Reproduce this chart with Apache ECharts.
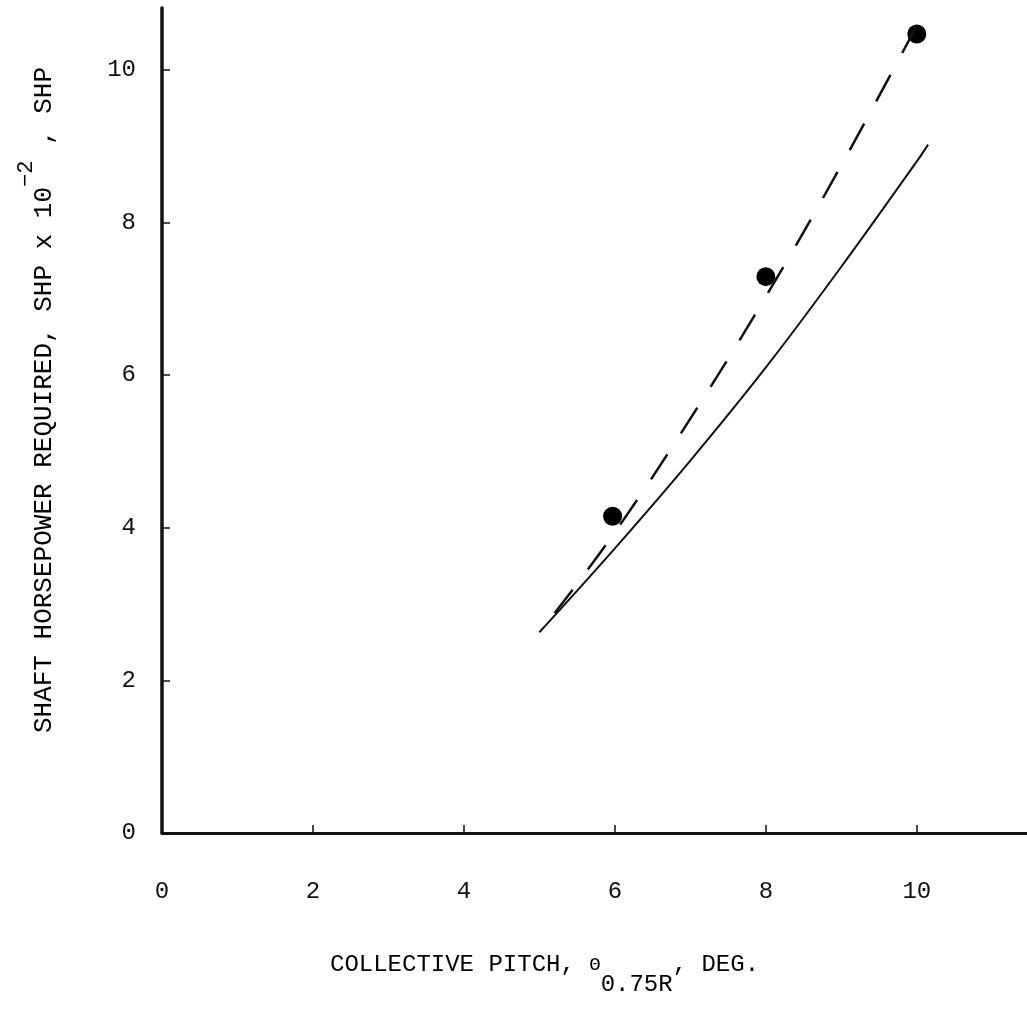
<!DOCTYPE html>
<html>
<head>
<meta charset="utf-8">
<script src="https://cdn.jsdelivr.net/npm/echarts@6/dist/echarts.min.js"></script>
<style>
html,body{margin:0;padding:0;background:#fff;}
#chart{width:1027px;height:1009px;}
</style>
</head>
<body>
<div id="chart"></div>
<script>
// Data
var xTicks = [0, 2, 4, 6, 8, 10];
var yTicks = [0, 2, 4, 6, 8, 10];
var solidX = [5.0, 6.0, 7.0, 8.0, 9.0, 10.0, 10.15];
var solidY = [2.63, 3.73, 4.88, 6.10, 7.42, 8.80, 9.02];
var dashX = [5.2, 6.0, 7.0, 8.0, 9.0, 10.07];
var dashY = [2.88, 3.94, 5.43, 7.03, 8.75, 10.71];
var pointX = [5.97, 8.0, 10.0];
var pointY = [4.15, 7.29, 10.47];

function pairs(xs, ys) { return xs.map(function (x, i) { return [x, ys[i]]; }); }

var FONT = '"Liberation Mono", "DejaVu Sans Mono", monospace';
var INK = '#111';

var chart = echarts.init(document.getElementById('chart'), null, { renderer: 'canvas' });
chart.setOption({
  backgroundColor: '#fff',
  animation: false,
  grid: { left: 162, right: 0, top: 8, bottom: 176, containLabel: false },
  xAxis: {
    type: 'value', min: 0, max: 11.46, interval: 2,
    axisLine: { show: true, onZero: false, lineStyle: { color: INK, width: 3 } },
    axisTick: { show: true, inside: true, length: 8, lineStyle: { color: INK, width: 1.5 }, customValues: [2, 4, 6, 8, 10] },
    axisLabel: { show: true, margin: 47, fontFamily: FONT, fontSize: 24, color: INK, customValues: xTicks },
    splitLine: { show: false }
  },
  yAxis: {
    type: 'value', min: 0, max: 10.81, interval: 2,
    axisLine: { show: true, onZero: false, lineStyle: { color: INK, width: 3.5 } },
    axisTick: { show: true, inside: true, length: 8, lineStyle: { color: INK, width: 1.5 }, customValues: [2, 4, 6, 8, 10] },
    axisLabel: { show: true, margin: 26, fontFamily: FONT, fontSize: 24, color: INK, customValues: yTicks },
    splitLine: { show: false }
  },
  series: [
    {
      type: 'line', data: pairs(solidX, solidY), smooth: 0.4, showSymbol: false,
      lineStyle: { color: INK, width: 2 }
    },
    {
      type: 'line', data: pairs(dashX, dashY), smooth: 0.4, showSymbol: false,
      lineStyle: { color: INK, width: 2.5, type: [30, 25] }
    },
    {
      type: 'scatter', data: pairs(pointX, pointY), symbol: 'circle', symbolSize: 19,
      itemStyle: { color: '#000', opacity: 1 }
    }
  ],
  graphic: [
    {
      type: 'text', x: 330, y: 953,
      style: {
        text: '{a|COLLECTIVE PITCH, }{th|\u0398}{s|0.75R}{a|, DEG.}',
        align: 'left', verticalAlign: 'top',
        rich: {
          a: { fontFamily: FONT, fontSize: 24, color: INK, lineHeight: 28, verticalAlign: 'top' },
          th: { fontFamily: FONT, fontSize: 19, color: INK, lineHeight: 28, verticalAlign: 'top', padding: [2, 0, 0, 0] },
          s: { fontFamily: FONT, fontSize: 24, color: INK, lineHeight: 28, verticalAlign: 'top', padding: [20, 0, 0, 0] }
        }
      }
    },
    {
      type: 'text', x: 42, y: 400, rotation: Math.PI / 2,
      style: {
        text: '{m|SHAFT HORSEPOWER REQUIRED, SHP x 10}{sup|\u22122}{m| , SHP}',
        align: 'center', verticalAlign: 'middle',
        rich: {
          m: { fontFamily: FONT, fontSize: 26, color: INK, lineHeight: 30, verticalAlign: 'bottom' },
          sup: { fontFamily: FONT, fontSize: 22, color: INK, lineHeight: 30, verticalAlign: 'bottom', padding: [0, 0, 20, 0] }
        }
      }
    }
  ]
});
</script>
</body>
</html>
